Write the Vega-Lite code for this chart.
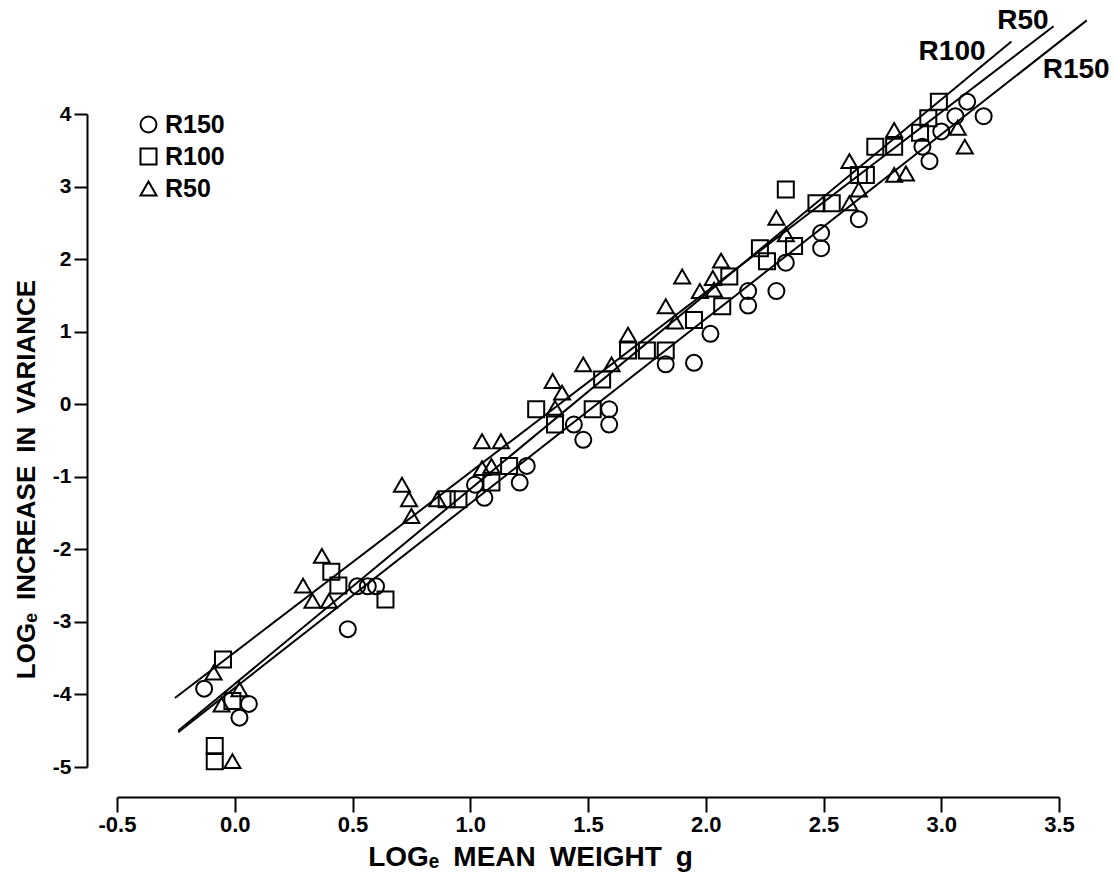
{
  "$schema": "https://vega.github.io/schema/vega-lite/v6.json",
  "width": 942,
  "height": 653,
  "autosize": {"type": "none"},
  "padding": {"left": 117, "top": 114, "right": 58, "bottom": 111},
  "background": "white",
  "config": {
    "view": {"stroke": null},
    "font": "Liberation Sans",
    "axis": {"grid": false, "domainColor": "black", "tickColor": "black", "labelColor": "black", "titleColor": "black", "domainWidth": 2, "tickWidth": 2, "labelFont": "Liberation Sans", "titleFont": "Liberation Sans", "labelFontWeight": "bold", "titleFontWeight": "bold", "labelOverlap": false, "labelFlush": false},
    "axisX": {"labelFontSize": 22},
    "axisY": {"labelFontSize": 21}
  },
  "datasets": {
    "points": [
      {"series": "R150", "x": -0.13, "y": -3.92},
      {"series": "R150", "x": 0.06, "y": -4.13},
      {"series": "R150", "x": 0.02, "y": -4.32},
      {"series": "R150", "x": 0.52, "y": -2.51},
      {"series": "R150", "x": 0.565, "y": -2.51},
      {"series": "R150", "x": 0.6, "y": -2.51},
      {"series": "R150", "x": 0.48, "y": -3.1},
      {"series": "R150", "x": 1.02, "y": -1.11},
      {"series": "R150", "x": 1.06, "y": -1.29},
      {"series": "R150", "x": 1.21, "y": -1.08},
      {"series": "R150", "x": 1.24, "y": -0.85},
      {"series": "R150", "x": 1.44, "y": -0.28},
      {"series": "R150", "x": 1.48, "y": -0.49},
      {"series": "R150", "x": 1.59, "y": -0.07},
      {"series": "R150", "x": 1.59, "y": -0.28},
      {"series": "R150", "x": 1.83, "y": 0.55},
      {"series": "R150", "x": 1.95, "y": 0.57},
      {"series": "R150", "x": 2.02, "y": 0.97},
      {"series": "R150", "x": 2.18, "y": 1.56},
      {"series": "R150", "x": 2.18, "y": 1.36},
      {"series": "R150", "x": 2.3, "y": 1.56},
      {"series": "R150", "x": 2.34, "y": 1.95},
      {"series": "R150", "x": 2.49, "y": 2.36},
      {"series": "R150", "x": 2.49, "y": 2.15},
      {"series": "R150", "x": 2.65, "y": 2.55},
      {"series": "R150", "x": 2.92, "y": 3.55},
      {"series": "R150", "x": 2.95, "y": 3.35},
      {"series": "R150", "x": 3.0, "y": 3.76},
      {"series": "R150", "x": 3.06, "y": 3.97},
      {"series": "R150", "x": 3.11, "y": 4.17},
      {"series": "R150", "x": 3.18, "y": 3.97},
      {"series": "R100", "x": -0.05, "y": -3.52},
      {"series": "R100", "x": -0.01, "y": -4.09},
      {"series": "R100", "x": -0.085, "y": -4.71},
      {"series": "R100", "x": -0.085, "y": -4.92},
      {"series": "R100", "x": 0.41, "y": -2.31},
      {"series": "R100", "x": 0.44, "y": -2.5},
      {"series": "R100", "x": 0.64, "y": -2.69},
      {"series": "R100", "x": 0.9, "y": -1.31},
      {"series": "R100", "x": 0.95, "y": -1.31},
      {"series": "R100", "x": 1.09, "y": -1.08},
      {"series": "R100", "x": 1.165, "y": -0.85},
      {"series": "R100", "x": 1.28, "y": -0.07},
      {"series": "R100", "x": 1.36, "y": -0.28},
      {"series": "R100", "x": 1.52, "y": -0.07},
      {"series": "R100", "x": 1.56, "y": 0.34},
      {"series": "R100", "x": 1.67, "y": 0.74},
      {"series": "R100", "x": 1.75, "y": 0.74},
      {"series": "R100", "x": 1.83, "y": 0.74},
      {"series": "R100", "x": 1.95, "y": 1.16},
      {"series": "R100", "x": 2.07, "y": 1.35},
      {"series": "R100", "x": 2.1, "y": 1.76},
      {"series": "R100", "x": 2.23, "y": 2.15},
      {"series": "R100", "x": 2.26, "y": 1.97},
      {"series": "R100", "x": 2.375, "y": 2.18},
      {"series": "R100", "x": 2.34, "y": 2.96},
      {"series": "R100", "x": 2.47, "y": 2.77},
      {"series": "R100", "x": 2.535, "y": 2.77},
      {"series": "R100", "x": 2.65, "y": 3.16},
      {"series": "R100", "x": 2.68, "y": 3.16},
      {"series": "R100", "x": 2.72, "y": 3.55},
      {"series": "R100", "x": 2.8, "y": 3.55},
      {"series": "R100", "x": 2.91, "y": 3.74},
      {"series": "R100", "x": 2.945, "y": 3.94},
      {"series": "R100", "x": 2.99, "y": 4.17},
      {"series": "R50", "x": -0.09, "y": -3.7},
      {"series": "R50", "x": 0.02, "y": -3.93},
      {"series": "R50", "x": -0.056, "y": -4.14},
      {"series": "R50", "x": -0.01, "y": -4.92},
      {"series": "R50", "x": 0.29, "y": -2.5},
      {"series": "R50", "x": 0.33, "y": -2.71},
      {"series": "R50", "x": 0.37, "y": -2.09},
      {"series": "R50", "x": 0.4, "y": -2.71},
      {"series": "R50", "x": 0.71, "y": -1.11},
      {"series": "R50", "x": 0.74, "y": -1.31},
      {"series": "R50", "x": 0.75, "y": -1.54},
      {"series": "R50", "x": 0.86, "y": -1.31},
      {"series": "R50", "x": 1.05, "y": -0.51},
      {"series": "R50", "x": 1.13, "y": -0.51},
      {"series": "R50", "x": 1.05, "y": -0.88},
      {"series": "R50", "x": 1.09, "y": -0.85},
      {"series": "R50", "x": 1.35, "y": 0.32},
      {"series": "R50", "x": 1.39, "y": 0.16},
      {"series": "R50", "x": 1.36, "y": -0.05},
      {"series": "R50", "x": 1.48, "y": 0.55},
      {"series": "R50", "x": 1.6, "y": 0.55},
      {"series": "R50", "x": 1.67, "y": 0.96},
      {"series": "R50", "x": 1.83, "y": 1.35},
      {"series": "R50", "x": 1.87, "y": 1.14},
      {"series": "R50", "x": 1.9, "y": 1.76},
      {"series": "R50", "x": 1.975, "y": 1.56},
      {"series": "R50", "x": 2.03, "y": 1.74},
      {"series": "R50", "x": 2.035, "y": 1.58},
      {"series": "R50", "x": 2.065, "y": 1.98},
      {"series": "R50", "x": 2.3, "y": 2.57},
      {"series": "R50", "x": 2.34, "y": 2.34},
      {"series": "R50", "x": 2.61, "y": 3.35},
      {"series": "R50", "x": 2.65, "y": 2.96},
      {"series": "R50", "x": 2.61, "y": 2.77},
      {"series": "R50", "x": 2.8, "y": 3.78},
      {"series": "R50", "x": 2.8, "y": 3.16},
      {"series": "R50", "x": 2.85, "y": 3.18},
      {"series": "R50", "x": 3.07, "y": 3.81},
      {"series": "R50", "x": 3.1, "y": 3.55}
    ],
    "lines": [
      {"series": "R50", "x": -0.254, "y": -4.05},
      {"series": "R50", "x": 3.477, "y": 5.21},
      {"series": "R100", "x": -0.24, "y": -4.5},
      {"series": "R100", "x": 3.298, "y": 5.0},
      {"series": "R150", "x": -0.24, "y": -4.52},
      {"series": "R150", "x": 3.618, "y": 5.29}
    ],
    "labels": [
      {"label": "R50", "x": 3.347, "y": 5.28},
      {"label": "R100", "x": 3.046, "y": 4.85},
      {"label": "R150", "x": 3.573, "y": 4.61}
    ]
  },
  "layer": [
    {
      "data": {"name": "lines"},
      "mark": {"type": "line", "color": "black", "strokeWidth": 2, "clip": false},
      "encoding": {
        "x": {
          "field": "x", "type": "quantitative",
          "scale": {"domain": [-0.5, 3.5], "nice": false, "zero": false},
          "axis": {
            "values": [-0.5, 0, 0.5, 1, 1.5, 2, 2.5, 3, 3.5],
            "format": ".1f",
            "labelExpr": "replace(datum.label, '\u2212', '-')",
            "offset": 30, "tickSize": 15, "labelFontSize": 22, "labelPadding": 2,
            "title": "LOG\u2091\u2002MEAN\u2002WEIGHT\u2002g", "titleFontSize": 28, "titlePadding": 8, "titleX": 413
          }
        },
        "y": {
          "field": "y", "type": "quantitative",
          "scale": {"domain": [-5, 4], "nice": false, "zero": false},
          "axis": {
            "values": [-5, -4, -3, -2, -1, 0, 1, 2, 3, 4],
            "format": "d",
            "labelExpr": "replace(datum.label, '\u2212', '-')",
            "offset": 30, "tickSize": 13, "labelFontSize": 21, "labelPadding": 3,
            "title": "LOG\u2091\u2002INCREASE\u2002IN\u2002VARIANCE", "titleFontSize": 26, "titlePadding": 13, "titleY": 365
          }
        },
        "detail": {"field": "series", "type": "nominal"}
      }
    },
    {
      "data": {"name": "points"},
      "mark": {"type": "point", "filled": false, "color": "black", "opacity": 1, "strokeWidth": 2, "size": 256, "clip": false},
      "encoding": {
        "x": {"field": "x", "type": "quantitative"},
        "y": {"field": "y", "type": "quantitative"},
        "shape": {
          "field": "series", "type": "nominal",
          "scale": {"domain": ["R150", "R100", "R50"], "range": ["circle", "square", "triangle-up"]},
          "legend": {
            "orient": "none", "legendX": 19, "legendY": -2, "title": null,
            "labelFontSize": 25, "labelFontWeight": "bold", "labelColor": "black", "labelFont": "Liberation Sans",
            "symbolSize": 256, "symbolStrokeWidth": 2, "symbolStrokeColor": "black", "symbolOpacity": 1, "labelOffset": 4, "rowPadding": 6
          }
        }
      }
    },
    {
      "data": {"name": "labels"},
      "mark": {"type": "text", "font": "Liberation Sans", "fontWeight": "bold", "fontSize": 28, "color": "black", "clip": false},
      "encoding": {
        "x": {"field": "x", "type": "quantitative"},
        "y": {"field": "y", "type": "quantitative"},
        "text": {"field": "label", "type": "nominal"}
      }
    }
  ]
}
